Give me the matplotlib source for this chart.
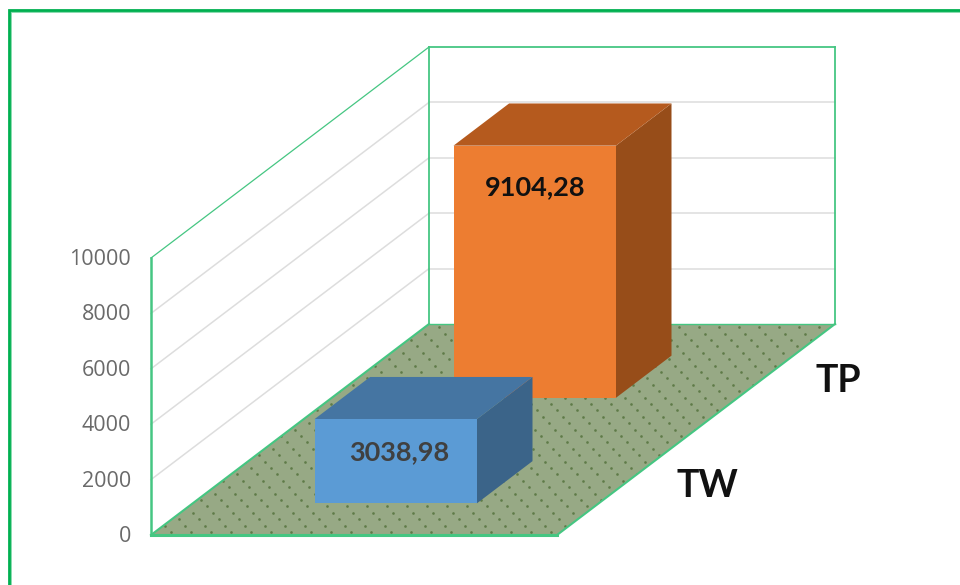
import matplotlib
matplotlib.use("Agg")
import matplotlib.pyplot as plt
from matplotlib.patches import Polygon

# --- Data ---
categories = ["TW", "TP"]
values = [3038.98, 9104.28]
value_labels = ["3038,98", "9104,28"]
ticks = [0, 2000, 4000, 6000, 8000, 10000]
y_max = 10000

# --- Colours per bar: front, top, side ---
front_colors = ["#5B9BD5", "#ED7D31"]
top_colors = ["#4575A2", "#B55A1E"]
side_colors = ["#3B6489", "#974D19"]
label_colors = ["#404040", "#111111"]
frame_color = "#00B050"
edge_color = "#45C682"
grid_color = "#DDDDDD"
floor_color = "#97A985"
dot_color = "#5F7B48"

# --- Oblique projection, x and depth in 0..1 ---
origin_x, origin_y = 151, 535
floor_w = 406
depth_dx, depth_dy = 278, -211
height_px = 277


def project(x, d, v=0):
    return (
        origin_x + floor_w * x + depth_dx * d,
        origin_y + depth_dy * d - height_px * v / y_max,
    )


fig = plt.figure(figsize=(9.6, 5.85), dpi=100)
ax = fig.add_axes([0, 0, 1, 1])
ax.set_xlim(0, 960)
ax.set_ylim(585, 0)
ax.axis("off")

# --- Outer frame: only left and top are inside the crop ---
ax.plot([11, 11, 960], [585, 12, 12], color="#7FD8A8", lw=1.3, solid_joinstyle="miter")
ax.plot([8.8, 8.8, 960], [585, 9.5, 9.5], color=frame_color, lw=2.0, solid_joinstyle="miter")

# --- Floor with dotted texture ---
floor = Polygon(
    [project(0, 0), project(1, 0), project(1, 1), project(0, 1)],
    closed=True, facecolor=floor_color, edgecolor="none", zorder=1,
)
ax.add_patch(floor)
dot_x, dot_y = [], []
row_y = origin_y - 3
row = 0
while row_y > origin_y + depth_dy:
    start = origin_x - (row * 6) % 20
    col_x = start - 20
    while col_x < project(1, 1)[0] + 20:
        dot_x.append(col_x)
        dot_y.append(row_y)
        col_x += 20
    row_y -= 6.4
    row += 1
dots = ax.scatter(dot_x, dot_y, s=3.6, marker="o", color=dot_color, lw=0, zorder=1.5)
dots.set_clip_path(floor)

# --- Gridlines on side and back walls ---
for t in ticks[1:-1]:
    sx, sy = zip(project(0, 0, t), project(0, 1, t))
    ax.plot(sx, sy, color=grid_color, lw=1.1, zorder=1)
    bx, by = zip(project(0, 1, t), project(1, 1, t))
    ax.plot(bx, by, color=grid_color, lw=1.1, zorder=1)

# --- Wall and floor outlines ---
outlines = [
    (project(0, 0, 0), project(0, 0, y_max), 1.8),
    (project(0, 0, 0), project(1, 0, 0), 2.2),
    (project(0, 0, 0), project(0, 1, 0), 1.5),
    (project(1, 0, 0), project(1, 1, 0), 1.5),
    (project(0, 1, 0), project(0, 1, y_max), 1.3),
    (project(1, 1, 0), project(1, 1, y_max), 1.3),
    (project(0, 1, 0), project(1, 1, 0), 1.0),
    (project(0, 1, y_max), project(1, 1, y_max), 1.3),
    (project(0, 0, y_max), project(0, 1, y_max), 0.9),
]
for p0, p1, lw in outlines:
    ax.plot([p0[0], p1[0]], [p0[1], p1[1]], color=edge_color, lw=lw, zorder=2)

# --- Tick labels ---
for t in ticks:
    px, py = project(0, 0, t)
    ax.text(px - 20, py + 1.5, str(t), ha="right", va="center", fontsize=15.5,
            color="#6A6A6A", family="Open Sans")

# --- Bars, back one first ---
x0, x1 = 0.3, 0.7
depth_half = 0.1
for i in reversed(range(len(categories))):
    d0 = 0.25 + 0.5 * i - depth_half
    d1 = 0.25 + 0.5 * i + depth_half
    v = values[i]
    ax.add_patch(Polygon(
        [project(x1, d0, 0), project(x1, d1, 0), project(x1, d1, v), project(x1, d0, v)],
        facecolor=side_colors[i], edgecolor="none", zorder=3))
    ax.add_patch(Polygon(
        [project(x0, d0, v), project(x1, d0, v), project(x1, d1, v), project(x0, d1, v)],
        facecolor=top_colors[i], edgecolor="none", zorder=3))
    ax.add_patch(Polygon(
        [project(x0, d0, 0), project(x1, d0, 0), project(x1, d0, v), project(x0, d0, v)],
        facecolor=front_colors[i], edgecolor="none", zorder=3))

# --- Value labels sit in the upper part of the front face ---
label_dx = [3.5, 0]
label_offsets = [33, 41]
for i in range(len(categories)):
    d0 = 0.25 + 0.5 * i - depth_half
    px, py = project(0.5, d0, values[i])
    ax.text(px + label_dx[i], py + label_offsets[i], value_labels[i], ha="center", va="center",
            fontsize=19.5, fontweight="bold", color=label_colors[i], family="Lato", zorder=4)

# --- Category labels on the depth axis ---
cat_x = [1.2, 1.18]
for i, cat in enumerate(categories):
    px, py = project(cat_x[i], 0.25 + 0.5 * i, 0)
    ax.text(px, py + 4, cat, ha="center", va="center", fontsize=27, fontweight="bold",
            color="#111111", family="Lato", zorder=4)

fig.savefig("out.png", dpi=100, facecolor="white")
